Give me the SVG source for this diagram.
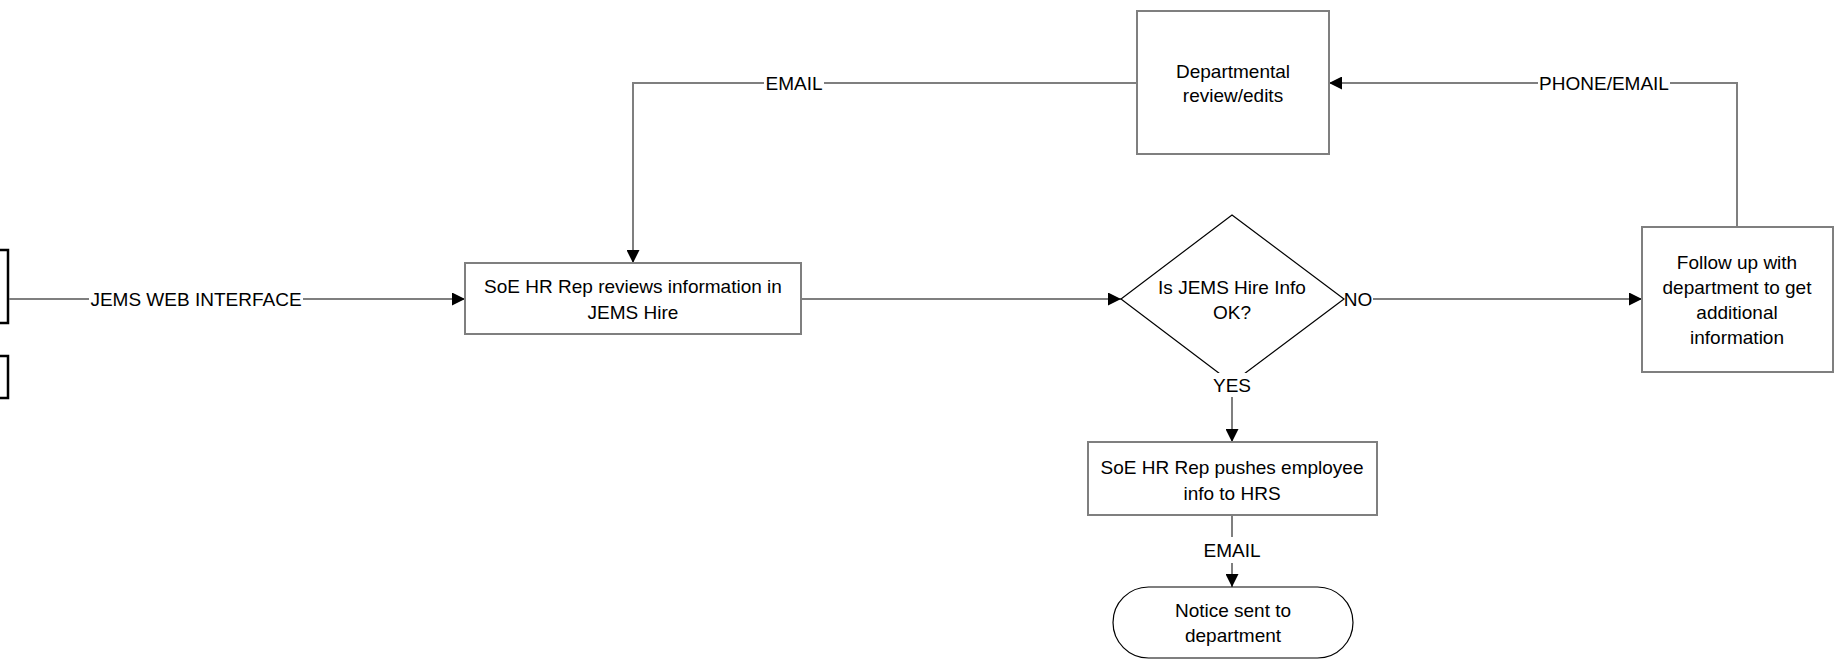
<svg xmlns="http://www.w3.org/2000/svg" width="1836" height="660" viewBox="0 0 1836 660">
  <style>
    .box { fill: #ffffff; stroke: #7f7f7f; stroke-width: 2; }
    .thin { fill: #ffffff; stroke: #000000; stroke-width: 1.2; }
    .edge { fill: none; stroke: #000000; stroke-width: 2.5; }
    .arrow { fill: none; stroke: #7f7f7f; stroke-width: 2; marker-end: url(#head); }
    .bg { fill: #ffffff; stroke: none; }
    text { font-family: "Liberation Sans", Arial, sans-serif; font-size: 19px; fill: #000000; text-anchor: middle; dominant-baseline: central; }
  </style>
  <defs>
    <marker id="head" viewBox="0 0 13 13" refX="13" refY="6.5" markerWidth="13" markerHeight="13" markerUnits="userSpaceOnUse" orient="auto">
      <path d="M0,0 L13,6.5 L0,13 Z" fill="#000000"/>
    </marker>
  </defs>

  <rect width="1836" height="660" fill="#ffffff"/>

  <!-- shapes cut off at the left edge -->
  <g id="edge-shape-1">
    <path class="edge" d="M-2,250 H8 V323 H-2"/>
  </g>
  <g id="edge-shape-2">
    <path class="edge" d="M-2,356 H8 V398 H-2"/>
  </g>

  <!-- connectors with their labels -->
  <g id="connectors">
    <path class="arrow" d="M9,299 H465"/>
    <path class="arrow" d="M801,299 H1121"/>
    <path class="arrow" d="M1344,299 H1642"/>
    <path class="arrow" d="M1737,227 V83 H1329"/>
    <path class="arrow" d="M1137,83 H633 V263"/>
    <path class="arrow" d="M1232,383 V442"/>
    <path class="arrow" d="M1232,515 V587"/>

    <rect class="bg" x="89" y="287" width="214" height="24"/>
    <text x="196" y="299">JEMS WEB INTERFACE</text>

    <rect class="bg" x="764" y="71" width="60" height="24"/>
    <text x="794" y="83">EMAIL</text>

    <rect class="bg" x="1538" y="71" width="132" height="24"/>
    <text x="1604" y="83">PHONE/EMAIL</text>

    <rect class="bg" x="1344" y="287" width="29" height="24"/>
    <text x="1358" y="299">NO</text>

    <rect class="bg" x="1201" y="537" width="62" height="26"/>
    <text x="1232" y="550">EMAIL</text>
  </g>

  <g id="review-jems">
    <rect class="box" x="465" y="263" width="336" height="71"/>
    <text x="633" y="286">SoE HR Rep reviews information in</text>
    <text x="633" y="312">JEMS Hire</text>
  </g>

  <g id="decision">
    <polygon class="thin" points="1232,215 1344,299 1232,383 1121,299"/>
    <text x="1232" y="287">Is JEMS Hire Info</text>
    <text x="1232" y="312">OK?</text>
  </g>

  <!-- YES label sits over the lower tip of the decision -->
  <g id="yes-label">
    <rect class="bg" x="1211" y="373" width="42" height="24"/>
    <text x="1232" y="385">YES</text>
  </g>

  <g id="follow-up">
    <rect class="box" x="1642" y="227" width="191" height="145"/>
    <text x="1737" y="262">Follow up with</text>
    <text x="1737" y="287">department to get</text>
    <text x="1737" y="312">additional</text>
    <text x="1737" y="337">information</text>
  </g>

  <g id="dept-review">
    <rect class="box" x="1137" y="11" width="192" height="143"/>
    <text x="1233" y="71">Departmental</text>
    <text x="1233" y="95">review/edits</text>
  </g>

  <g id="push-hrs">
    <rect class="box" x="1088" y="442" width="289" height="73"/>
    <text x="1232" y="467">SoE HR Rep pushes employee</text>
    <text x="1232" y="493">info to HRS</text>
  </g>

  <g id="notice">
    <rect class="thin" x="1113" y="587" width="240" height="71" rx="35.5" ry="35.5"/>
    <text x="1233" y="610">Notice sent to</text>
    <text x="1233" y="635">department</text>
  </g>
</svg>
